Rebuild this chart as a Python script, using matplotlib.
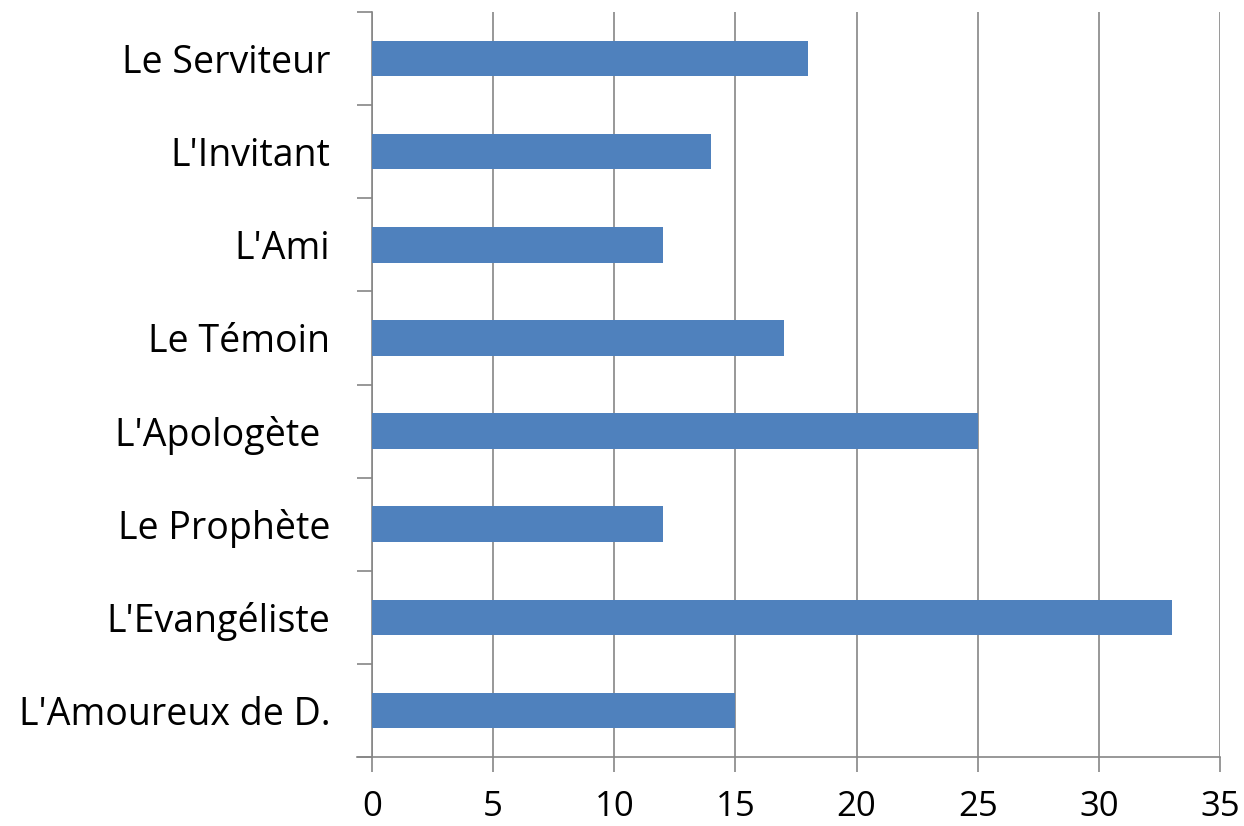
import matplotlib.pyplot as plt
import numpy as np

categories = ["L'Amoureux de D.", "L'Evangéliste", "Le Prophète", "L'Apologète ",
              "Le Témoin", "L'Ami", "L'Invitant", "Le Serviteur"]
values = [15, 33, 12, 25, 17, 12, 14, 18]
xticks = [0, 5, 10, 15, 20, 25, 30, 35]

plt.rcParams['font.family'] = ['Open Sans', 'DejaVu Sans']
grey = '#868686'

fig = plt.figure(figsize=(12.44, 8.26), dpi=100)
ax = fig.add_axes([372 / 1244, 1 - 757 / 826, (1220 - 372) / 1244, (757 - 12) / 826])

pos = np.arange(len(categories))
ax.barh(pos, values, height=0.38, color='#4F81BD', zorder=3)

ax.set_xlim(0, 35)
ax.set_ylim(-0.5, len(categories) - 0.5)
ax.set_xticks(xticks)
ax.set_xticklabels([str(t) for t in xticks], fontsize=25)
ax.set_yticks(pos)
ax.set_yticklabels(categories, fontsize=27)
ax.set_yticks(np.arange(len(categories) + 1) - 0.5, minor=True)

ax.tick_params(axis='y', which='major', length=0, pad=30)
ax.tick_params(axis='y', which='minor', length=11, width=1.2, color=grey)
ax.tick_params(axis='x', length=11, width=1.2, color=grey, pad=13)

ax.grid(axis='x', color=grey, linewidth=1.2, zorder=0)
for s in ['top', 'right']:
    ax.spines[s].set_visible(False)
for s in ['left', 'bottom']:
    ax.spines[s].set_color(grey)
    ax.spines[s].set_linewidth(1.2)
ax.spines['bottom'].set_bounds(-0.6, 35)

fig.savefig('out.png', dpi=100)
